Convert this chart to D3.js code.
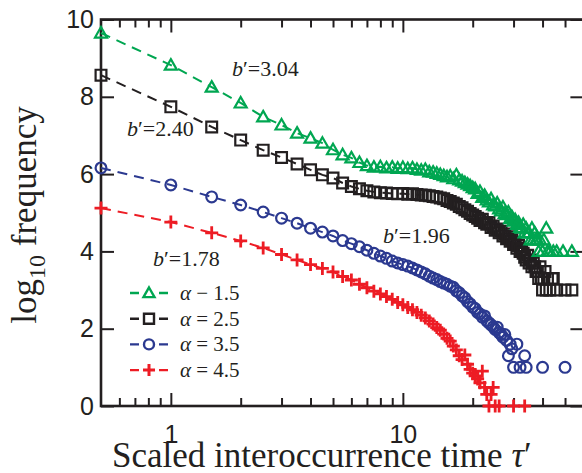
<!DOCTYPE html>
<html>
<head>
<meta charset="utf-8">
<script src="https://cdn.jsdelivr.net/npm/d3@7"></script>
<style>
  body { margin: 0; background: #fff; }
  svg { display: block; }
  .tick text { font-family: "Liberation Sans", Arial, sans-serif; font-size: 25px; fill: #231f20; }
  .serif { font-family: "Liberation Serif", "Times New Roman", serif; fill: #231f20; }
</style>
</head>
<body>
<svg width="582" height="473"></svg>
<script>
// scaled interoccurrence time (shared x values)
var tau = [
  0.5, 1, 1.5, 2, 2.5, 3, 3.5, 4, 4.5, 5,
  5.5, 6, 6.5, 7, 7.5, 8, 8.5, 9, 9.5, 10,
  10.5, 11, 11.5, 12, 12.5, 13, 13.5, 14, 14.5, 15,
  15.5, 16, 16.5, 17, 17.5, 18, 18.5, 19, 19.5, 20,
  20.5, 21, 21.5, 22, 22.5, 23, 23.5, 24, 24.5, 25,
  25.5, 26, 26.5, 27, 27.5, 28, 28.5, 29, 29.5, 30,
  30.5, 31, 31.5, 32, 32.5, 33, 33.5, 34, 34.5, 35,
  35.5, 36, 36.5, 37, 37.5, 38, 38.5, 39, 39.5, 40,
  40.5, 41, 41.5, 42, 42.5, 43, 43.5, 44, 44.5, 45,
  45.5, 46, 46.5, 47, 47.5, 48, 48.5, 49, 49.5, 50,
  50.5, 51, 51.5, 52, 52.5, 53, 53.5, 54, 54.5, 55
];

// log10 frequency, one array per alpha (null = no event in that bin)
var alpha15 = [
  9.65, 8.82, 8.25, 7.84, 7.48, 7.27, 7.06, 6.93, 6.80, 6.63,
  6.50, 6.42, 6.30, 6.22, 6.18, 6.19, 6.16, 6.18, 6.15, 6.17,
  6.14, 6.16, 6.12, 6.10, 6.12, 6.06, 6.05, 6.02, 5.99, 5.96,
  5.93, 5.95, 5.88, 5.98, 5.85, 5.82, 5.78, 5.74, 5.70, 5.65,
  5.62, 5.50, 5.55, 5.40, 5.45, 5.33, 5.28, 5.36, 5.20, 5.18,
  5.25, 5.10, 5.05, 5.15, 4.98, 4.95, 5.02, 4.85, 4.90, 4.78,
  4.82, 4.70, 4.75, 4.62, 4.60, 4.70, 4.48, 4.60, 4.48, 4.48,
  4.30, 4.60, 4.30, 4.48, 4.30, 4.30, 4.00, 4.30, null, 4.00,
  4.30, null, 4.60, 4.00, null, 4.00, null, null, 4.00, null,
  null, 4.00, null, null, null, null, null, 4.00, null, null,
  null, null, null, null, null, null, 4.00, null, null, null
];
var alpha25 = [
  8.56, 7.74, 7.22, 6.88, 6.62, 6.43, 6.26, 6.11, 5.98, 5.90,
  5.77, 5.68, 5.62, 5.57, 5.54, 5.52, 5.51, 5.50, 5.49, 5.50,
  5.48, 5.49, 5.47, 5.46, 5.45, 5.44, 5.42, 5.41, 5.38, 5.36,
  5.32, 5.29, 5.25, 5.22, 5.16, 5.13, 5.08, 5.04, 4.98, 4.94,
  4.90, 4.86, 4.80, 4.83, 4.74, 4.70, 4.75, 4.62, 4.66, 4.55,
  4.58, 4.48, 4.52, 4.40, 4.45, 4.33, 4.38, 4.26, 4.30, 4.18,
  4.23, 4.08, 4.15, 4.00, 4.05, 3.95, 3.85, 3.78, 3.90, 3.70,
  3.78, 3.60, 3.70, 3.60, 3.48, 3.48, 3.30, 3.60, 3.30, 3.00,
  3.30, 3.48, 3.00, 3.30, null, 3.00, null, 3.30, 3.30, null,
  null, 3.00, null, null, null, null, null, null, null, 3.00,
  null, null, null, null, null, null, 3.00, null, null, null
];
var alpha35 = [
  6.16, 5.72, 5.41, 5.20, 5.02, 4.86, 4.73, 4.60, 4.50, 4.40,
  4.28, 4.20, 4.12, 4.03, 3.95, 3.88, 3.82, 3.75, 3.70, 3.66,
  3.62, 3.57, 3.52, 3.47, 3.42, 3.36, 3.31, 3.27, 3.22, 3.18,
  3.15, 3.10, 3.07, 2.98, 2.93, 2.85, 2.80, 2.70, 2.64, 2.56,
  2.52, 2.42, 2.38, 2.30, 2.33, 2.20, 2.15, 2.10, 2.05, 1.98,
  2.04, 1.90, 1.85, 1.78, 1.85, 1.70, 1.30, 1.60, 1.48, 1.00,
  null, 1.60, null, 1.00, null, null, 1.30, 1.00, null, null,
  null, null, null, null, null, null, null, null, null, 1.00,
  null, null, null, null, null, null, null, null, null, null,
  null, null, null, null, null, null, null, null, null, 1.00,
  null, null, null, null, null, null, null, null, null, null
];
var alpha45 = [
  5.12, 4.76, 4.48, 4.27, 4.09, 3.92, 3.78, 3.66, 3.56, 3.47,
  3.35, 3.26, 3.15, 3.06, 2.97, 2.90, 2.83, 2.76, 2.68, 2.62,
  2.55, 2.49, 2.42, 2.35, 2.28, 2.20, 2.12, 2.03, 1.96, 1.86,
  1.75, 1.68, 1.55, 1.45, 1.30, 1.20, 1.32, 1.08, 0.95, 0.85,
  0.78, 0.70, 0.60, 0.90, 0.48, 0.30, 0.00, 0.30, 0.48, 0.00,
  null, 0.00, null, null, null, null, null, null, null, 0.00,
  null, null, null, null, null, null, 0.00, null, null, null,
  null, null, null, null, null, null, null, null, null, null,
  null, null, null, null, null, null, null, null, null, null,
  null, null, null, null, null, null, null, null, null, null,
  null, null, null, null, null, null, null, null, null, null
];

var legendLabels = [' \u2212 1.5', ' = 2.5', ' = 3.5', ' = 4.5'];
var slopeLabels = ['3.04', '2.40', '1.96', '1.78'];

var yTicks = [0, 2, 4, 6, 8, 10];
var xMajor = [1, 10];
var xMinor = [0.6, 0.7, 0.8, 0.9, 2, 3, 4, 5, 6, 7, 8, 9, 20, 30, 40, 50];

var GREEN = '#00a651', BLACK = '#231f20', BLUE = '#2b3990', RED = '#ed1c24';

var svg = d3.select('svg');

var x = d3.scaleLog().domain([0.5, 60]).range([101, 583.4]);
var y = d3.scaleLinear().domain([0, 10]).range([406, 19.5]);

// marker shapes
function shape(type, s) {
  if (type === 'triangle') return 'M0,' + (-s) + 'L' + s + ',' + (s * 0.75) + 'L' + (-s) + ',' + (s * 0.75) + 'Z';
  if (type === 'square') return 'M' + (-s) + ',' + (-s) + 'h' + (2 * s) + 'v' + (2 * s) + 'h' + (-2 * s) + 'Z';
  if (type === 'circle') return 'M' + s + ',0A' + s + ',' + s + ' 0 1,1 ' + (-s) + ',0A' + s + ',' + s + ' 0 1,1 ' + s + ',0Z';
  return 'M' + (-s) + ',0H' + s + 'M0,' + (-s) + 'V' + s;
}

// axes
function styleAxis(g) {
  g.select('.domain').remove();
  g.selectAll('.tick line').attr('stroke', BLACK).attr('stroke-width', 2);
}

svg.append('g')
  .attr('transform', 'translate(101,0)')
  .call(d3.axisLeft(y).tickValues(yTicks).tickSize(-13).tickSizeOuter(0).tickPadding(7))
  .call(styleAxis);

svg.append('g')
  .attr('transform', 'translate(583.4,0)')
  .call(d3.axisRight(y).tickValues(yTicks).tickSize(-13).tickSizeOuter(0).tickFormat(''))
  .call(styleAxis);

svg.append('g')
  .attr('transform', 'translate(0,406)')
  .call(d3.axisBottom(x).tickValues(xMajor).tickSize(-13).tickSizeOuter(0).tickPadding(19).tickFormat(d3.format('d')))
  .call(styleAxis);

svg.append('g')
  .attr('transform', 'translate(0,406)')
  .call(d3.axisBottom(x).tickValues(xMinor).tickSize(-8).tickSizeOuter(0).tickFormat(''))
  .call(styleAxis);

svg.append('g')
  .attr('transform', 'translate(0,19.5)')
  .call(d3.axisTop(x).tickValues(xMajor).tickSize(-13).tickSizeOuter(0).tickFormat(''))
  .call(styleAxis);

svg.append('g')
  .attr('transform', 'translate(0,19.5)')
  .call(d3.axisTop(x).tickValues(xMinor).tickSize(-8).tickSizeOuter(0).tickFormat(''))
  .call(styleAxis);

svg.append('rect')
  .attr('x', x(0.5))
  .attr('y', y(10))
  .attr('width', x(60) - x(0.5))
  .attr('height', y(0) - y(10))
  .attr('fill', 'none')
  .attr('stroke', BLACK)
  .attr('stroke-width', 2.6);

// series (drawn red first, green on top)
var series = [
  { values: alpha45, color: RED, type: 'plus' },
  { values: alpha35, color: BLUE, type: 'circle' },
  { values: alpha25, color: BLACK, type: 'square' },
  { values: alpha15, color: GREEN, type: 'triangle' }
];

var line = d3.line()
  .x(function (d) { return x(d.t); })
  .y(function (d) { return y(d.v); });

series.forEach(function (s) {
  var pts = tau.map(function (t, i) { return { t: t, v: s.values[i] }; })
    .filter(function (d) { return d.v !== null; });

  svg.append('path')
    .datum(pts.filter(function (d) { return d.t <= 12; }))
    .attr('d', line)
    .attr('fill', 'none')
    .attr('stroke', s.color)
    .attr('stroke-width', 2)
    .attr('stroke-dasharray', '10,7');

  svg.append('g')
    .selectAll('path')
    .data(pts)
    .join('path')
    .attr('transform', function (d) { return 'translate(' + x(d.t) + ',' + y(d.v) + ')'; })
    .attr('d', shape(s.type, s.type === 'plus' ? 6.5 : (s.type === 'triangle' ? 6 : 5.4)))
    .attr('fill', 'none')
    .attr('stroke', s.color)
    .attr('stroke-width', s.type === 'plus' ? 2.8 : 2.2);
});

// slope annotations
var slopePos = [[232, 76], [127, 136], [383, 243], [153, 266]];
slopeLabels.forEach(function (lab, i) {
  var t = svg.append('text')
    .attr('class', 'serif')
    .attr('x', slopePos[i][0])
    .attr('y', slopePos[i][1])
    .style('font-size', '22px');
  t.append('tspan').style('font-style', 'italic').text('b');
  t.append('tspan').text('\u2032=' + lab);
});

// legend
var legendSeries = [series[3], series[2], series[1], series[0]];
var leg = svg.append('g').attr('transform', 'translate(130,293)');
legendSeries.forEach(function (s, i) {
  var row = leg.append('g').attr('transform', 'translate(0,' + (i * 25.7) + ')');
  row.append('line')
    .attr('x1', 0).attr('x2', 38)
    .attr('stroke', s.color)
    .attr('stroke-width', 2.4)
    .attr('stroke-dasharray', '9,20');
  row.append('path')
    .attr('transform', 'translate(19,0)')
    .attr('d', shape(s.type, s.type === 'plus' ? 6 : (s.type === 'triangle' ? 5.5 : 5)))
    .attr('fill', 'none')
    .attr('stroke', s.color)
    .attr('stroke-width', s.type === 'plus' ? 3 : 2.4);
  var t = row.append('text')
    .attr('class', 'serif')
    .attr('x', 50)
    .attr('y', 7)
    .style('font-size', '21px');
  t.append('tspan').style('font-style', 'italic').text('\u03b1');
  t.append('tspan').text(legendLabels[i]);
});

// axis titles
var xt = svg.append('text')
  .attr('class', 'serif')
  .attr('x', 112)
  .attr('y', 467)
  .style('font-size', '35px');
xt.append('tspan').text('Scaled interoccurrence time ');
xt.append('tspan').style('font-style', 'italic').text('\u03c4');
xt.append('tspan').text('\u2032');

var yt = svg.append('text')
  .attr('class', 'serif')
  .attr('transform', 'translate(36,215) rotate(-90)')
  .attr('text-anchor', 'middle')
  .style('font-size', '35px');
yt.append('tspan').text('log');
yt.append('tspan').attr('dy', 9).style('font-size', '24px').text('10');
yt.append('tspan').attr('dy', -9).text(' frequency');
</script>
</body>
</html>
